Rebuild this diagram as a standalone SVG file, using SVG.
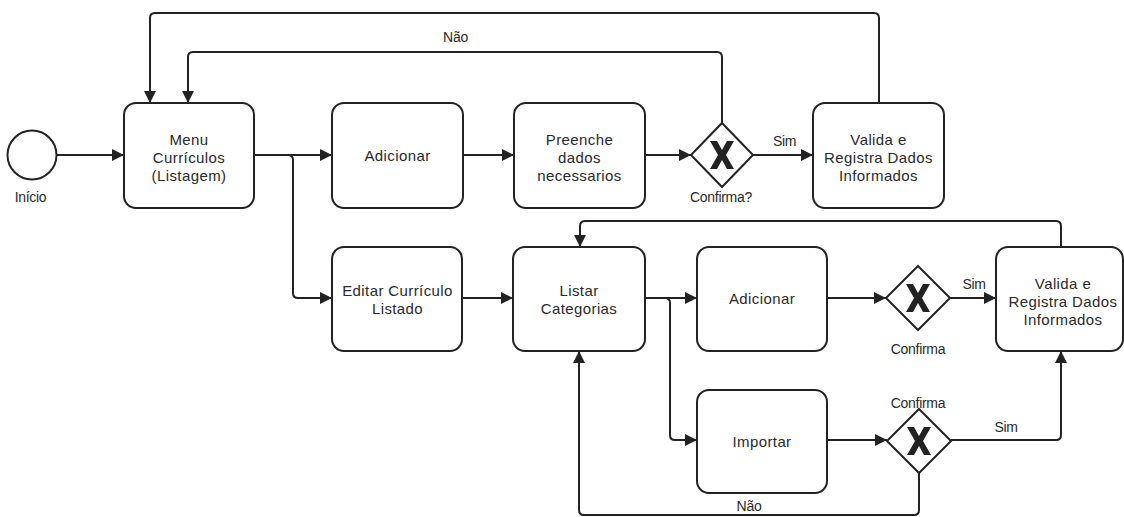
<svg xmlns="http://www.w3.org/2000/svg" width="1124" height="517" viewBox="0 0 1124 517">
<style>
.box{fill:#fff;stroke:#222;stroke-width:2}
.gw{fill:#fff;stroke:#222;stroke-width:2}
.xm{fill:#222}
.t{font-family:"Liberation Sans",Arial,sans-serif;font-size:15px;letter-spacing:0.4px;fill:#2a2a2a;text-anchor:middle}
.l{font-family:"Liberation Sans",Arial,sans-serif;font-size:14px;letter-spacing:-0.3px;fill:#2a2a2a;text-anchor:middle}
.c{fill:none;stroke:#222;stroke-width:2}
</style>
<defs>
<marker id="ar" markerUnits="userSpaceOnUse" markerWidth="12" markerHeight="12" refX="12" refY="6" orient="auto">
<path d="M0,0 L12,6 L0,12 z" fill="#222"/>
</marker>
</defs>
<rect width="1124" height="517" fill="#fff"/>
<g id="connectors">
<path class="c" d="M57,155 H124" marker-end="url(#ar)"/>
<path class="c" d="M254,155 H332" marker-end="url(#ar)"/>
<path class="c" d="M280,155 H288 Q293,155 293,160 V293 Q293,298 298,298 H332" marker-end="url(#ar)"/>
<path class="c" d="M463,155 H514" marker-end="url(#ar)"/>
<path class="c" d="M645,155 H691" marker-end="url(#ar)"/>
<path class="c" d="M753,155 H813" marker-end="url(#ar)"/>
<path class="c" d="M722,123 V57 Q722,52 717,52 H193 Q188,52 188,57 V103" marker-end="url(#ar)"/>
<path class="c" d="M879,103 V18 Q879,13 874,13 H155 Q150,13 150,18 V103" marker-end="url(#ar)"/>
<path class="c" d="M462,298 H513" marker-end="url(#ar)"/>
<path class="c" d="M645,298 H697" marker-end="url(#ar)"/>
<path class="c" d="M660,298 H665 Q670,298 670,303 V435 Q670,440 675,440 H697" marker-end="url(#ar)"/>
<path class="c" d="M827,298 H886" marker-end="url(#ar)"/>
<path class="c" d="M950,298 H996" marker-end="url(#ar)"/>
<path class="c" d="M1061,247 V226 Q1061,221 1056,221 H585 Q580,221 580,226 V247" marker-end="url(#ar)"/>
<path class="c" d="M827,440 H887" marker-end="url(#ar)"/>
<path class="c" d="M951,440 H1056 Q1061,440 1061,435 V351" marker-end="url(#ar)"/>
<path class="c" d="M919,473 V510 Q919,515 914,515 H584 Q579,515 579,510 V351" marker-end="url(#ar)"/>
<text class="l" x="455.5" y="41.5">Não</text>
<text class="l" x="784.5" y="146">Sim</text>
<text class="l" x="974" y="289">Sim</text>
<text class="l" x="1006" y="432">Sim</text>
<text class="l" x="749" y="511">Não</text>
</g>
<g id="start">
<circle cx="32" cy="155" r="24.5" fill="#fff" stroke="#222" stroke-width="2"/>
<text class="l" x="30.5" y="202">Início</text>
</g>
<g id="menu">
<rect class="box" x="124" y="103" width="130" height="105" rx="12"/>
<text class="t" x="189" y="145">Menu</text>
<text class="t" x="189" y="163">Currículos</text>
<text class="t" x="189" y="181">(Listagem)</text>
</g>
<g id="adicionar1">
<rect class="box" x="332" y="103" width="131" height="105" rx="12"/>
<text class="t" x="397.5" y="160.5">Adicionar</text>
</g>
<g id="preenche">
<rect class="box" x="514" y="103" width="131" height="105" rx="12"/>
<text class="t" x="579.5" y="145">Preenche</text>
<text class="t" x="579.5" y="163">dados</text>
<text class="t" x="579.5" y="181">necessarios</text>
</g>
<g id="gw1">
<polygon class="gw" points="722,123 753,155 722,187 691,155"/>
<polygon class="xm" transform="translate(722,155)" points="-12,-14 -5,-14 0,-5 5,-14 12,-14 4,0 12,14 5,14 0,5 -5,14 -12,14 -4,0"/>
<text class="l" x="721" y="202">Confirma?</text>
</g>
<g id="valida1">
<rect class="box" x="813" y="103" width="131" height="105" rx="12"/>
<text class="t" x="878.5" y="145">Valida e</text>
<text class="t" x="878.5" y="163">Registra Dados</text>
<text class="t" x="878.5" y="181">Informados</text>
</g>
<g id="editar">
<rect class="box" x="332" y="247" width="130" height="104" rx="12"/>
<text class="t" x="397.5" y="296">Editar Currículo</text>
<text class="t" x="397.5" y="313.5">Listado</text>
</g>
<g id="listar">
<rect class="box" x="513" y="247" width="132" height="104" rx="12"/>
<text class="t" x="579" y="296">Listar</text>
<text class="t" x="579" y="313.5">Categorias</text>
</g>
<g id="adicionar2">
<rect class="box" x="697" y="247" width="130" height="104" rx="12"/>
<text class="t" x="762" y="304">Adicionar</text>
</g>
<g id="gw2">
<polygon class="gw" points="918,266 950,298 918,330 886,298"/>
<polygon class="xm" transform="translate(918,298)" points="-12,-14 -5,-14 0,-5 5,-14 12,-14 4,0 12,14 5,14 0,5 -5,14 -12,14 -4,0"/>
<text class="l" x="918" y="354">Confirma</text>
</g>
<g id="valida2">
<rect class="box" x="996" y="247" width="127" height="104" rx="12"/>
<text class="t" x="1063" y="288.5">Valida e</text>
<text class="t" x="1063" y="306.5">Registra Dados</text>
<text class="t" x="1063" y="324.5">Informados</text>
</g>
<g id="importar">
<rect class="box" x="697" y="390" width="130" height="103" rx="12"/>
<text class="t" x="762" y="447">Importar</text>
</g>
<g id="gw3">
<polygon class="gw" points="919,409 951,441 919,473 887,441"/>
<polygon class="xm" transform="translate(919,441)" points="-12,-14 -5,-14 0,-5 5,-14 12,-14 4,0 12,14 5,14 0,5 -5,14 -12,14 -4,0"/>
<text class="l" x="918" y="408">Confirma</text>
</g>
</svg>
